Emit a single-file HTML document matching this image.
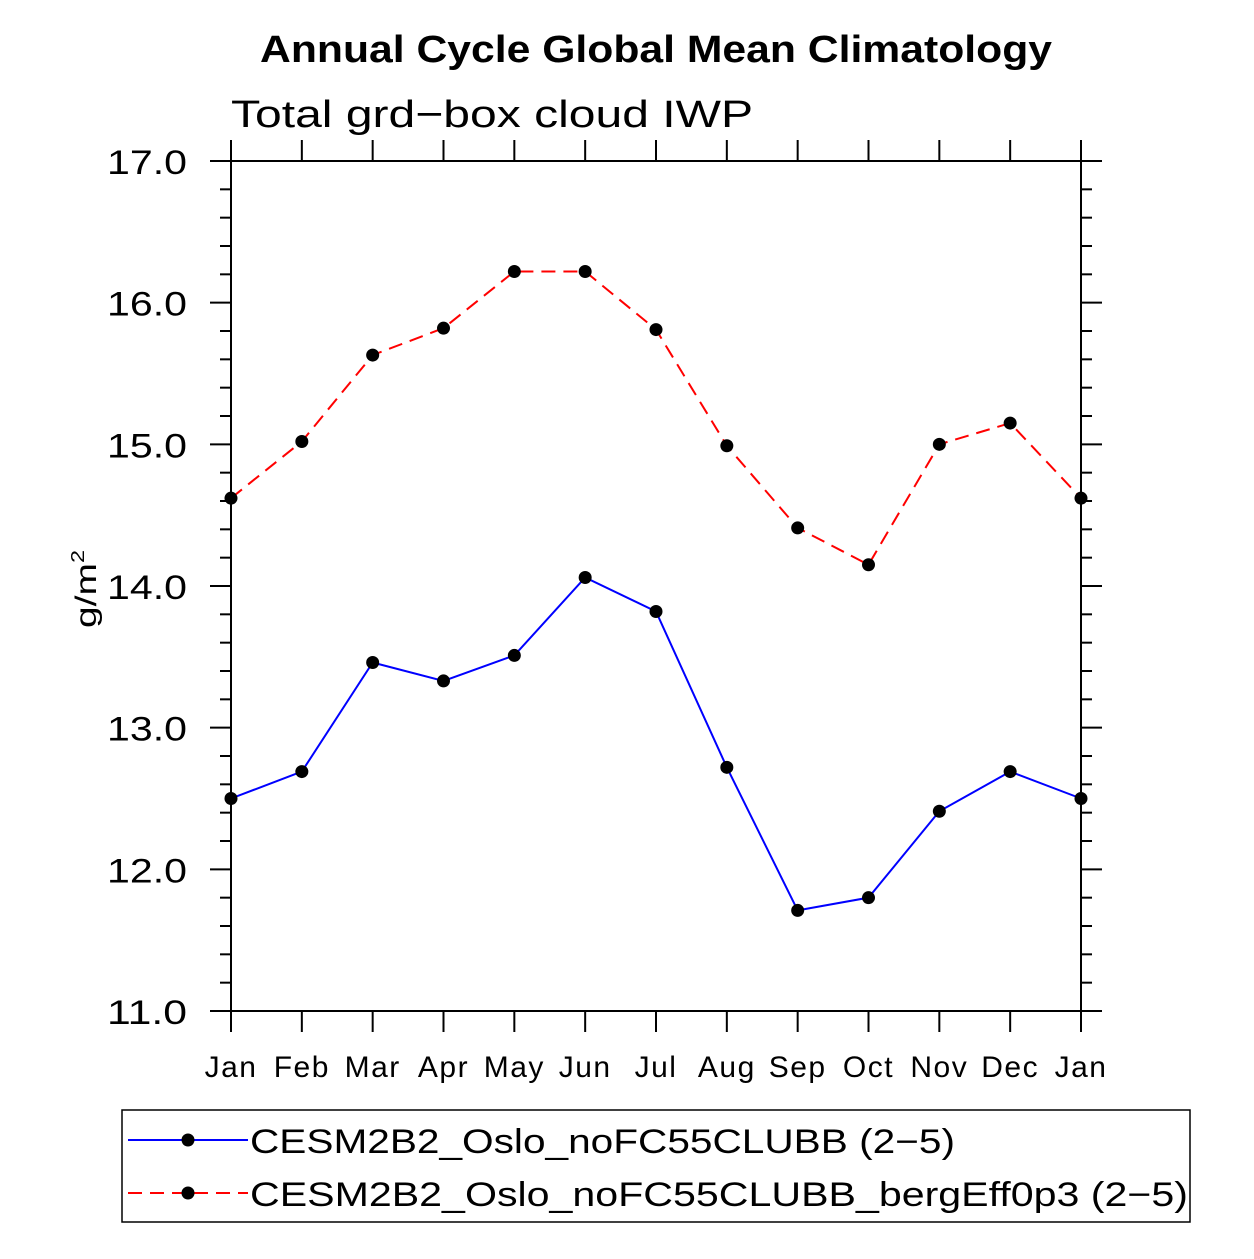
<!DOCTYPE html>
<html><head><meta charset="utf-8"><style>
body{margin:0;background:#fff}
svg text{font-family:"Liberation Sans",sans-serif}
</style></head><body>
<svg id="c" width="1254" height="1254" viewBox="0 0 1254 1254">
<text x="260" y="62" textLength="792" lengthAdjust="spacingAndGlyphs" font-size="38" font-weight="bold">Annual Cycle Global Mean Climatology</text>
<text x="231" y="127" textLength="522" lengthAdjust="spacingAndGlyphs" font-size="38" font-weight="300">Total grd−box cloud IWP</text>
<text transform="translate(96,628) rotate(-90)" font-size="30" font-weight="300" textLength="78" lengthAdjust="spacingAndGlyphs">g/m<tspan dy="-12" font-size="18">2</tspan></text>
<g id="axes"></g>
<g id="series"></g>
<rect x="122" y="1110" width="1068" height="112" fill="none" stroke="#000" stroke-width="1.5"/>
<line x1="128" y1="1140" x2="248" y2="1140" stroke="#0000ff" stroke-width="2"/>
<circle cx="188" cy="1140" r="6.5" fill="#000"/>
<text x="250" y="1153" textLength="705" lengthAdjust="spacingAndGlyphs" font-size="34" font-weight="300">CESM2B2_Oslo_noFC55CLUBB (2−5)</text>
<line x1="128" y1="1193" x2="248" y2="1193" stroke="#ff0000" stroke-width="2" stroke-dasharray="14,8"/>
<circle cx="188" cy="1193" r="6.5" fill="#000"/>
<text x="250" y="1206" textLength="938" lengthAdjust="spacingAndGlyphs" font-size="34" font-weight="300">CESM2B2_Oslo_noFC55CLUBB_bergEff0p3 (2−5)</text>
</svg>
<script>
const months=["Jan","Feb","Mar","Apr","May","Jun","Jul","Aug","Sep","Oct","Nov","Dec","Jan"];
const blueVals=[12.50,12.69,13.46,13.33,13.51,14.06,13.82,12.72,11.71,11.80,12.41,12.69,12.50];
const redVals=[14.62,15.02,15.63,15.82,16.22,16.22,15.81,14.99,14.41,14.15,15.00,15.15,14.62];
const yTicks=[11,12,13,14,15,16,17];
const yTickLabels=["11.0","12.0","13.0","14.0","15.0","16.0","17.0"];
const L=231,R=1081,T=161,B=1011,ymin=11,ymax=17;
const xs=i=>L+(R-L)*i/(months.length-1);
const ys=v=>B-(v-ymin)/(ymax-ymin)*(B-T);
const NS="http://www.w3.org/2000/svg";
function mk(t,a,p){const e=document.createElementNS(NS,t);for(const k in a)e.setAttribute(k,a[k]);p.appendChild(e);return e;}
const ax=document.getElementById('axes'),se=document.getElementById('series');
let fr=mk('rect',{x:L,y:T,width:R-L,height:B-T,fill:"none",stroke:"#000","stroke-width":2},ax);


for(let v=ymin;v<=ymax+1e-9;v+=0.2){
  const maj=Math.abs(v-Math.round(v))<1e-6,len=maj?21:11,y=ys(v);
  let t1=mk('line',{x1:L-len,x2:L,y1:y,y2:y,stroke:"#000","stroke-width":2},ax);
  
  
  let t2=mk('line',{x1:R,x2:R+len,y1:y,y2:y,stroke:"#000","stroke-width":2},ax);
  
  
}
yTicks.forEach((v,i)=>{
  let t=mk('text',{x:107,y:ys(v)+13,"font-size":34,"font-weight":300,textLength:80,lengthAdjust:"spacingAndGlyphs"},ax);
  t.textContent=yTickLabels[i];
  
  
});
months.forEach((m,i)=>{
  const x=xs(i);
  let a=mk('line',{x1:x,x2:x,y1:B,y2:B+21,stroke:"#000","stroke-width":2},ax);
  
  
  let b=mk('line',{x1:x,x2:x,y1:T-21,y2:T,stroke:"#000","stroke-width":2},ax);
  
  
  let t=mk('text',{x:x,y:1077,"text-anchor":"middle","font-size":30,"font-weight":300,"letter-spacing":1.5},ax);
  t.textContent=m;
  
  
});
function draw(vals,color,dash,name){
  let p=mk('polyline',{points:vals.map((v,i)=>xs(i)+","+ys(v)).join(" "),fill:"none",stroke:color,"stroke-width":2,"stroke-dasharray":dash},se);
  
  
  vals.forEach((v,i)=>{
    let c=mk('circle',{cx:xs(i),cy:ys(v),r:6.5,fill:"#000"},se);
    
    
  });
}
draw(redVals,"#ff0000","14,8","red-series");
draw(blueVals,"#0000ff","none","blue-series");
</script>
</body></html>
